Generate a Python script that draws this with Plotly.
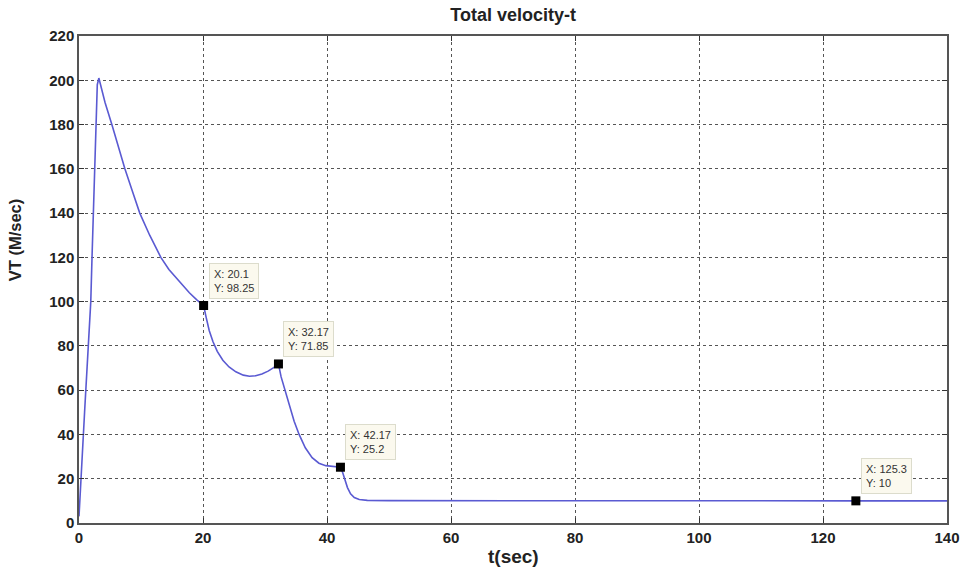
import plotly.graph_objects as go

# Curve data
t_vals = [0, 0.3, 0.9, 1.5, 1.9, 2.1, 2.3, 2.6, 2.8, 2.95, 3.2,
          4.2, 5.3, 6.3, 7.4, 8.6, 9.8, 11.4, 13.2, 14.5, 15.7, 16.8, 17.8, 19.0, 20.1,
          20.5, 21.0, 21.6, 22.3, 23.2, 24.2, 25.3, 26.5, 27.5, 28.5, 29.5, 30.5, 31.4, 32.17,
          32.6, 33.2, 33.9, 34.7, 35.5, 36.5, 37.6, 38.7, 39.8, 41.0, 42.17,
          42.5, 42.9, 43.3, 43.8, 44.4, 45.2, 46.5, 50.0, 60.0, 100.0, 125.3, 140.0]
v_vals = [3, 20, 50, 80, 100, 120, 140, 160, 180, 198, 201,
          190, 180, 170, 160, 150, 140, 130, 120, 114.5, 110.5, 107, 104, 100.8, 98.25,
          93, 87, 82, 77.5, 73.5, 70.5, 68.3, 66.8, 66.3, 66.5, 67.3, 68.6, 70.2, 71.85,
          66, 60, 54, 46, 40, 34, 29.5, 27, 25.9, 25.4, 25.2,
          23, 19.5, 16, 13.2, 11.5, 10.6, 10.2, 10.1, 10.05, 10.0, 10.0, 10.0]

# Data tips
tip_x = [20.1, 32.17, 42.17, 125.3]
tip_y = [98.25, 71.85, 25.2, 10]
tip_labels = ["X: 20.1<br>Y: 98.25", "X: 32.17<br>Y: 71.85",
              "X: 42.17<br>Y: 25.2", "X: 125.3<br>Y: 10"]

x_ticks = [0, 20, 40, 60, 80, 100, 120, 140]
y_ticks = [0, 20, 40, 60, 80, 100, 120, 140, 160, 180, 200, 220]

FONT = "Liberation Sans, Arial, sans-serif"

fig = go.Figure()
fig.add_trace(go.Scatter(x=t_vals, y=v_vals, mode="lines",
                         line=dict(color="#5a5ad2", width=1.6),
                         showlegend=False, hoverinfo="skip"))
fig.add_trace(go.Scatter(x=tip_x, y=tip_y, mode="markers",
                         marker=dict(symbol="square", size=9, color="black"),
                         showlegend=False))

for x, y, lab in zip(tip_x, tip_y, tip_labels):
    fig.add_annotation(x=x, y=y, text=lab, showarrow=False,
                       xanchor="left", yanchor="bottom", xshift=5, yshift=7,
                       align="left", bgcolor="#fbf9ee", bordercolor="#dcdccc",
                       borderwidth=1, borderpad=4,
                       font=dict(family=FONT, size=11, color="#333"))

# Axis titles as annotations to match their exact placement
fig.add_annotation(text="<b>t(sec)</b>", xref="paper", yref="paper",
                   x=0.5, y=-0.069, xanchor="center", yanchor="middle",
                   showarrow=False, font=dict(family=FONT, size=19, color="#222"))
fig.add_annotation(text="<b>VT (M/sec)</b>", xref="paper", yref="paper",
                   x=-0.0735, y=0.581, xanchor="center", yanchor="middle",
                   textangle=-90, showarrow=False,
                   font=dict(family=FONT, size=16.5, color="#222"))

fig.update_layout(
    width=972, height=570,
    margin=dict(l=79, r=22, t=36, b=47),
    paper_bgcolor="white", plot_bgcolor="white",
    title=dict(text="<b>Total velocity-t</b>", x=0.528, xanchor="center",
               y=0.974, yanchor="middle",
               font=dict(family=FONT, size=18, color="#222")),
    font=dict(family=FONT),
)
fig.update_xaxes(range=[0, 140], tickvals=x_ticks, showgrid=True,
                 gridcolor="#555", griddash="dot", gridwidth=1.3,
                 showline=True, linecolor="#555", linewidth=1.5, mirror="ticks",
                 ticks="inside", ticklen=5, tickcolor="#333", zeroline=False,
                 tickfont=dict(family=FONT, size=15, color="#222", weight="bold"))
fig.update_yaxes(range=[0, 220], tickvals=y_ticks, showgrid=True,
                 gridcolor="#555", griddash="dot", gridwidth=1.3,
                 showline=True, linecolor="#555", linewidth=1.5, mirror="ticks",
                 ticks="inside", ticklen=5, tickcolor="#333", zeroline=False,
                 tickfont=dict(family=FONT, size=15, color="#222", weight="bold"))

fig.write_html("out.html")
